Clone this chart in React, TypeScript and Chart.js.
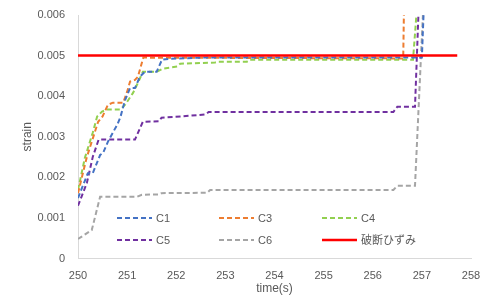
import React, { useEffect, useRef } from "react";
import { Chart, registerables } from "chart.js";

Chart.register(...registerables);

const xTicks = [250, 251, 252, 253, 254, 255, 256, 257, 258];
const yTicks = [0, 0.001, 0.002, 0.003, 0.004, 0.005, 0.006];

const c1Time = [250, 250.2, 250.3, 250.45, 250.51, 250.61, 250.65, 250.8, 250.86, 250.96, 251.06, 251.16, 251.26, 251.36, 251.6, 251.71, 251.87, 252.5, 257.0, 257.05];
const c1Strain = [0.00149, 0.0021, 0.0021, 0.00255, 0.0026, 0.00288, 0.00297, 0.0033, 0.00347, 0.00391, 0.0042, 0.0042, 0.00448, 0.0046, 0.0046, 0.0049, 0.00492, 0.00495, 0.00495, 0.0065];

const c3Time = [250, 250.18, 250.41, 250.5, 250.61, 250.71, 250.92, 251.0, 251.06, 251.16, 251.22, 251.33, 256.62, 256.64];
const c3Strain = [0.00161, 0.0025, 0.00337, 0.0035, 0.00379, 0.00384, 0.00384, 0.00411, 0.00436, 0.0044, 0.00448, 0.00495, 0.00493, 0.0065];

const c4Time = [250, 250.14, 250.3, 250.39, 250.49, 250.59, 250.86, 250.96, 251.12, 251.22, 251.32, 251.6, 251.73, 252.02, 252.08, 252.79, 252.85, 253.44, 253.5, 256.82, 256.92];
const c4Strain = [0.00169, 0.00248, 0.0031, 0.0035, 0.00362, 0.00367, 0.00367, 0.00379, 0.00408, 0.00433, 0.0046, 0.0046, 0.00468, 0.00473, 0.0048, 0.00483, 0.00485, 0.00485, 0.0049, 0.0049, 0.0065];

const c5Time = [250, 250.18, 250.3, 250.42, 251.16, 251.32, 251.65, 251.7, 252.1, 252.6, 252.66, 256.42, 256.5, 256.86, 256.945];
const c5Strain = [0.0013, 0.00186, 0.0025, 0.00293, 0.00293, 0.00337, 0.00338, 0.00347, 0.0035, 0.00355, 0.00361, 0.00361, 0.00374, 0.00374, 0.0065];

const c6Time = [250, 250.28, 250.45, 251.2, 251.3, 251.65, 251.7, 252.63, 252.69, 256.42, 256.5, 256.86, 257.04];
const c6Strain = [0.00048, 0.0007, 0.00152, 0.00152, 0.00157, 0.00158, 0.00161, 0.00162, 0.00169, 0.00169, 0.00179, 0.00179, 0.0065];

const breakTime = [250, 257.72];
const breakStrain = [0.005, 0.005];

const seriesNames = ["C1", "C3", "C4", "C5", "C6", "破断ひずみ"];
const seriesColors = ["#4472C4", "#ED7D31", "#92D050", "#7030A0", "#A5A5A5", "#FF0000"];

const FONT = "'Liberation Sans', 'Noto Sans CJK JP', sans-serif";
const TEXT = "#595959";

const pts = (t: number[], v: number[]) => t.map((x, i) => ({ x, y: v[i] }));

const legendPlugin = {
  id: "gridLegend",
  afterDraw(chart: any) {
    const ctx = chart.ctx;
    const xs = [117, 219, 322];
    const ys = [218, 240];
    ctx.save();
    chart.data.datasets.forEach((ds: any, i: number) => {
      const col = i % 3;
      const row = Math.floor(i / 3);
      const x0 = xs[col];
      const y0 = ys[row];
      ctx.beginPath();
      ctx.setLineDash(ds.borderDash || []);
      ctx.strokeStyle = ds.borderColor;
      ctx.lineWidth = ds.borderWidth;
      ctx.moveTo(x0, y0);
      ctx.lineTo(x0 + 35, y0);
      ctx.stroke();
      ctx.setLineDash([]);
      ctx.fillStyle = TEXT;
      ctx.font = `11px ${FONT}`;
      ctx.textAlign = "left";
      ctx.textBaseline = "middle";
      ctx.fillText(ds.label, x0 + 39, y0 + 1);
    });
    ctx.restore();
  },
};

export default function App() {
  const ref = useRef<HTMLCanvasElement | null>(null);
  useEffect(() => {
    if (!ref.current) return;
    const series = [
      pts(c1Time, c1Strain),
      pts(c3Time, c3Strain),
      pts(c4Time, c4Strain),
      pts(c5Time, c5Strain),
      pts(c6Time, c6Strain),
      pts(breakTime, breakStrain),
    ];
    const chart = new Chart(ref.current, {
      type: "scatter",
      data: {
        datasets: series.map((d, i) => ({
          label: seriesNames[i],
          data: d,
          showLine: true,
          borderColor: seriesColors[i],
          backgroundColor: seriesColors[i],
          borderWidth: i === 5 ? 2.5 : 2,
          borderDash: i === 5 ? [] : [5, 3],
          pointRadius: 0,
          tension: 0,
          order: i === 5 ? 0 : 1,
        })),
      },
      options: {
        responsive: false,
        animation: false,
        layout: { padding: { top: 15, right: 24, left: 0, bottom: 0 } },
        plugins: { legend: { display: false }, tooltip: { enabled: false } },
        scales: {
          x: {
            type: "linear",
            min: 250,
            max: 258,
            afterBuildTicks: (s: any) => { s.ticks = xTicks.map((v) => ({ value: v })); },
            afterFit: (s: any) => { s.height = 38.5; s.paddingLeft = 0; s.paddingRight = 0; },
            grid: { display: false, drawTicks: false },
            border: { display: true, color: "#D9D9D9", width: 1 },
            ticks: { color: TEXT, font: { family: FONT, size: 11 }, padding: 11, maxRotation: 0 },
            title: { display: true, text: "time(s)", color: TEXT, font: { family: FONT, size: 12 }, padding: { top: 0, bottom: 1 } },
          },
          y: {
            type: "linear",
            min: 0,
            max: 0.006,
            afterBuildTicks: (s: any) => { s.ticks = yTicks.map((v) => ({ value: v })); },
            afterFit: (s: any) => { s.width = 78; s.paddingTop = 0; s.paddingBottom = 0; },
            grid: { display: false, drawTicks: false },
            border: { display: true, color: "#D9D9D9", width: 1 },
            ticks: {
              color: TEXT,
              font: { family: FONT, size: 11 },
              padding: 13,
              callback: (v: any) => (v === 0 ? "0" : Number(v).toFixed(3)),
            },
            title: { display: true, text: "strain", color: TEXT, font: { family: FONT, size: 12 }, padding: { top: 20, bottom: 0 } },
          },
        },
      },
      plugins: [legendPlugin],
    });
    return () => chart.destroy();
  }, []);
  return (
    <div style={{ position: "fixed", left: 0, top: 0, width: 495, height: 297, background: "#fff" }}>
      <canvas ref={ref} width={495} height={297} />
    </div>
  );
}
